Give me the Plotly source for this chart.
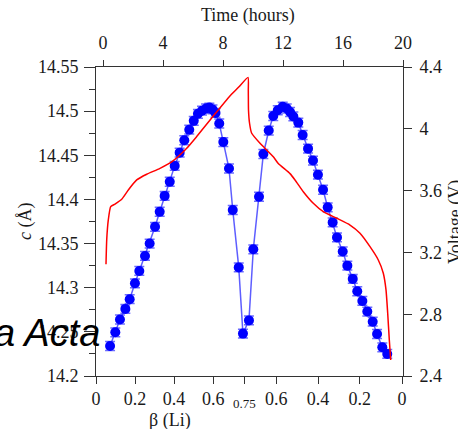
import plotly.graph_objects as go

# ---- data ----
time_h = [0.47, 0.82, 1.13, 1.49, 1.78, 2.13, 2.42, 2.80, 3.11, 3.47, 3.78, 4.11, 4.45,
          4.78, 5.11, 5.42, 5.75, 6.05, 6.33, 6.60, 6.87, 7.09, 7.30, 7.50, 7.75, 8.02,
          8.40, 8.65, 9.05, 9.33, 9.73, 10.02, 10.40, 10.69, 11.05, 11.35, 11.65, 11.98,
          12.25, 12.47, 12.69, 13.02, 13.31, 13.67, 14.00, 14.33, 14.67, 14.98, 15.31,
          15.60, 15.98, 16.29, 16.65, 16.95, 17.29, 17.62, 17.98, 18.27, 18.62, 18.95]
c_lattice = [14.234, 14.2495, 14.264, 14.276, 14.287, 14.305, 14.319, 14.336, 14.350,
             14.369, 14.386, 14.404, 14.420, 14.438, 14.453, 14.467, 14.479, 14.489,
             14.497, 14.5005, 14.503, 14.504, 14.502, 14.498, 14.486, 14.465, 14.435,
             14.388, 14.323, 14.248, 14.263, 14.3435, 14.403, 14.4515, 14.478, 14.4945,
             14.501, 14.505, 14.503, 14.499, 14.494, 14.487, 14.473, 14.4575, 14.444,
             14.428, 14.411, 14.391, 14.374, 14.357, 14.341, 14.325, 14.310, 14.296,
             14.285, 14.273, 14.2615, 14.2476, 14.2325, 14.225]
c_error = 0.005

volt_time = [0.20, 0.247, 0.353, 0.513, 0.80, 1.247, 1.687, 2.247, 2.913, 3.80, 4.687,
             5.58, 6.247, 7.313, 8.42, 9.05, 9.667, 9.687, 9.70, 9.77, 9.913, 10.467,
             11.353, 11.67, 12.467, 12.80, 13.353, 14.02, 14.687, 15.58, 16.467, 17.133,
             17.80, 18.353, 18.687, 18.867, 18.98, 19.087, 19.18]
volt_V = [3.123, 3.28, 3.41, 3.496, 3.513, 3.544, 3.604, 3.669, 3.706, 3.744, 3.794,
          3.874, 3.95, 4.078, 4.208, 4.27, 4.333, 4.251, 4.122, 4.036, 3.971, 3.906,
          3.819, 3.777, 3.71, 3.669, 3.593, 3.518, 3.4635, 3.421, 3.377, 3.324,
          3.237, 3.151, 3.065, 2.957, 2.806, 2.633, 2.504]

time_ticks = [0, 4, 8, 12, 16, 20]
beta_tick_hours = [-0.467, 2.133, 4.733, 7.353, 9.447, 11.553, 14.333, 17.113, 19.933]
beta_tick_labels = ["0", "0.2", "0.4", "0.6", "0.75", "0.6", "0.4", "0.2", "0"]
c_ticks = [14.2, 14.25, 14.3, 14.35, 14.4, 14.45, 14.5, 14.55]
c_tick_labels = ["14.2", "14.25", "14.3", "14.35", "14.4", "14.45", "14.5", "14.55"]
v_ticks = [2.4, 2.8, 3.2, 3.6, 4.0, 4.4]
v_tick_labels = ["2.4", "2.8", "3.2", "3.6", "4", "4.4"]

# ---- layout geometry ----
W, H = 458, 429
L, R, T, B = 96, 403, 67, 376
XR = [-0.467, 20]


def px(x):
    return (x - L) / (R - L)


def py(y):
    return (B - y) / (B - T)


SERIF = "Liberation Serif, Times New Roman, serif"
LINEC = "#333333"
TXT = "#1a1a1a"

fig = go.Figure()
fig.add_trace(go.Scatter(
    x=time_h, y=c_lattice, mode="lines+markers", xaxis="x", yaxis="y",
    line=dict(color="rgba(40,40,255,0.75)", width=1.5),
    marker=dict(color="#0000ff", size=10),
    error_y=dict(type="constant", value=c_error, color="rgba(60,60,255,0.75)",
                 thickness=1.5, width=5),
    showlegend=False))
fig.add_trace(go.Scatter(
    x=volt_time, y=volt_V, mode="lines", xaxis="x2", yaxis="y2",
    line=dict(color="#ff0000", width=1.5, shape="spline", smoothing=0.5), showlegend=False))

bottom_text = [("" if t == "0.75" else t) for t in beta_tick_labels]

axis_common = dict(showgrid=False, zeroline=False, showline=True, linecolor=LINEC,
                   linewidth=1, ticks="outside", tickcolor=LINEC, tickwidth=1,
                   tickfont=dict(family=SERIF, size=18, color=TXT))

fig.update_layout(
    width=W, height=H, margin=dict(l=L, r=W - R, t=T, b=H - B),
    paper_bgcolor="white", plot_bgcolor="white",
    xaxis=dict(range=XR, tickmode="array", tickvals=beta_tick_hours, ticktext=bottom_text,
               ticklen=7, ticklabelstandoff=-1, **axis_common),
    xaxis2=dict(range=XR, overlaying="x", side="top", tickmode="array", tickvals=time_ticks,
                ticklen=6, ticklabelstandoff=4, **axis_common),
    yaxis=dict(range=[14.2, 14.55], tickmode="array", tickvals=c_ticks, ticktext=c_tick_labels,
               ticklen=11, ticklabelstandoff=2,
               minor=dict(ticks="outside", ticklen=6, dtick=0.025, tick0=14.2, tickcolor=LINEC),
               **axis_common),
    yaxis2=dict(range=[2.4, 4.4], overlaying="y", side="right", tickmode="array",
                tickvals=v_ticks, ticktext=v_tick_labels, ticklen=8, ticklabelstandoff=4,
                **axis_common),
)

ann = [
    dict(text="Time (hours)", x=px(248), y=py(15), size=18, angle=0),
    dict(text="β (Li)", x=px(170), y=py(420), size=18, angle=0),
    dict(text="<i>c</i> (Å)", x=px(25), y=py(221), size=18, angle=-90),
    dict(text="Voltage (V)", x=px(456), y=py(222), size=18, angle=-90),
]
for a in ann:
    fig.add_annotation(text=a["text"], xref="paper", yref="paper", x=a["x"], y=a["y"],
                       showarrow=False, textangle=a["angle"], xanchor="center", yanchor="middle",
                       font=dict(family=SERIF, size=a["size"], color=TXT))

fig.add_annotation(text="0.75", xref="x", yref="paper", x=beta_tick_hours[4], y=py(403),
                   showarrow=False, xanchor="center", yanchor="middle",
                   font=dict(family=SERIF, size=13, color=TXT))

fig.add_annotation(text="<i>a Acta</i>", xref="paper", yref="paper", x=px(102), y=py(333),
                   showarrow=False, xanchor="right", yanchor="middle",
                   font=dict(family="Liberation Sans, Arial, sans-serif", size=38, color="black"))

fig.write_html("out.html")
